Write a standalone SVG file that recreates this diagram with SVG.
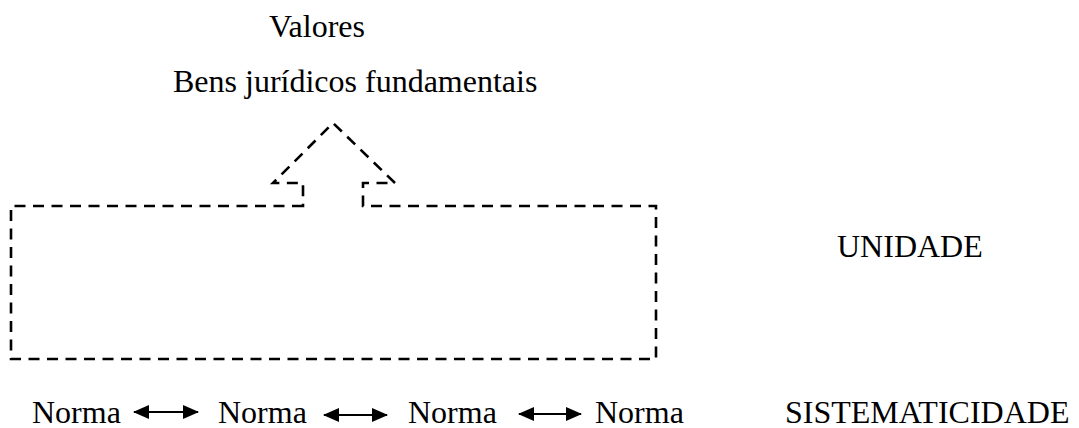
<svg xmlns="http://www.w3.org/2000/svg" width="1079" height="428" viewBox="0 0 1079 428">
<style>
text{font-family:"Liberation Serif","Times New Roman",serif;font-size:32px;fill:#000}
.dash{fill:none;stroke:#000;stroke-width:2.6;stroke-dasharray:11 7.5}
.arr{stroke:#000;stroke-width:2;fill:none;marker-start:url(#ah);marker-end:url(#ah)}
</style>
<defs>
<marker id="ah" viewBox="0 0 16 14" refX="15" refY="7" markerWidth="16" markerHeight="14" markerUnits="userSpaceOnUse" orient="auto-start-reverse">
<path d="M0,0 L16,7 L0,14 Z" fill="#000"/>
</marker>
</defs>
<g id="top-labels">
<text x="269" y="37">Valores</text>
<text x="173" y="92">Bens jurídicos fundamentais</text>
</g>
<g id="unity-shape">
<path class="dash" d="M303,206 L11,206 L11,359 L656,359 L656,206 L363,206 L363,183 L395,183 L333,123 L273,183 L303,183 Z"/>
</g>
<g id="unidade"><text x="837" y="257">UNIDADE</text></g>
<g id="norma1"><text x="32" y="423">Norma</text></g>
<g id="norma2"><text x="218" y="423">Norma</text></g>
<g id="norma3"><text x="408" y="423">Norma</text></g>
<g id="norma4"><text x="595" y="423">Norma</text></g>
<g id="sistematicidade"><text x="785" y="423">SISTEMATICIDADE</text></g>
<g id="connectors">
<line class="arr" x1="134" y1="412" x2="198" y2="412"/>
<line class="arr" x1="324" y1="415" x2="387" y2="415"/>
<line class="arr" x1="519" y1="414" x2="581" y2="414"/>
</g>
</svg>
